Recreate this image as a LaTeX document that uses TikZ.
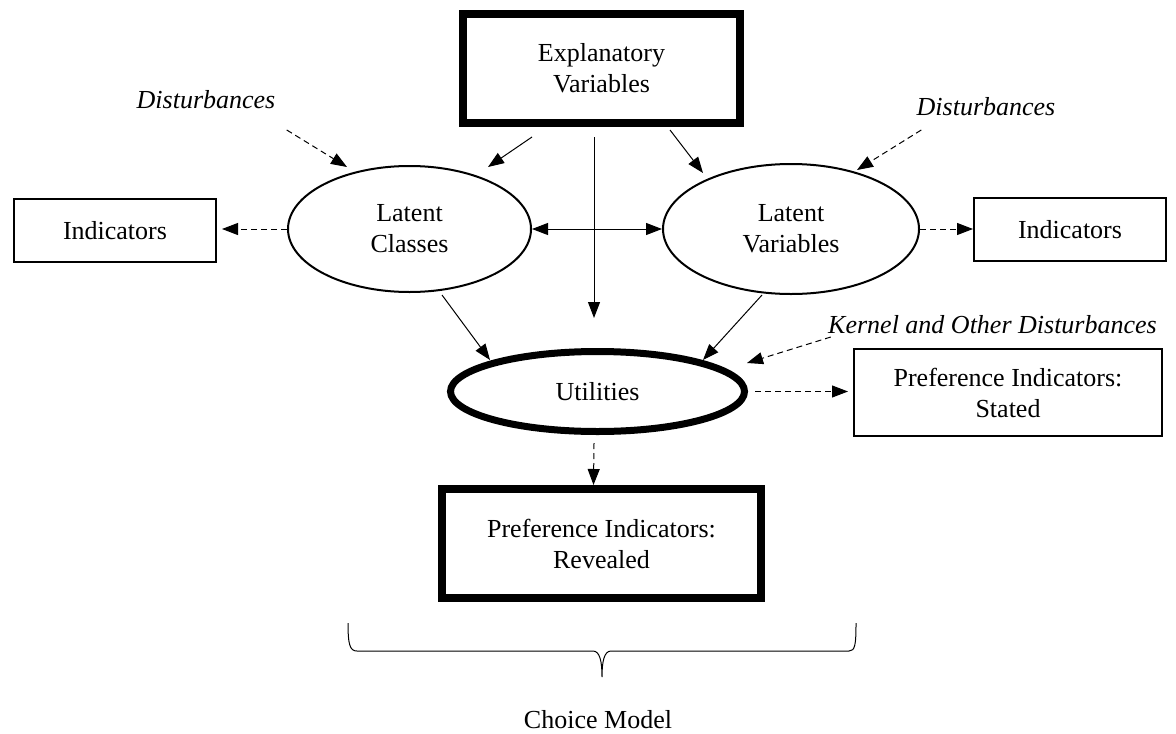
\documentclass[tikz,border=0pt]{standalone}
\usepackage{fontspec}
\setmainfont{Liberation Serif}
\usetikzlibrary{arrows.meta,shapes.geometric,calc}
\newcommand{\figfont}{\fontsize{13}{15.5}\selectfont}
\tikzset{
box/.style={draw,rectangle,line width=1pt,align=center,inner sep=0pt,font=\figfont},
bigbox/.style={box,line width=4pt},
oval/.style={draw,ellipse,line width=1pt,align=center,inner sep=0pt,font=\figfont},
note/.style={font=\figfont\itshape,inner sep=0pt,anchor=base},
arr/.style={->,>={Triangle[length=8pt,width=6pt]},line width=0.5pt},
darr/.style={arr,dash pattern=on 3pt off 2pt}
}
\begin{document}
\begin{tikzpicture}[x=0.5pt,y=-0.5pt]
\useasboundingbox (0,0) rectangle (1176,733);
\node[bigbox,minimum width=138.5pt,minimum height=54.5pt] (expl) at (601.5,68.5) {Explanatory\\Variables};
\node[oval,minimum width=121.5pt,minimum height=63pt] (lclass) at (409.5,229) {Latent\\Classes};
\node[oval,minimum width=128pt,minimum height=65pt] (lvar) at (791,229) {Latent\\Variables};
\node[box,minimum width=101pt,minimum height=31.5pt] (indl) at (115,230.5) {Indicators};
\node[box,minimum width=96pt,minimum height=31.5pt] (indr) at (1070,229.5) {Indicators};
\node[oval,line width=3.5pt,minimum width=147pt,minimum height=40pt] (util) at (597.5,391.5) {Utilities};
\node[box,minimum width=154pt,minimum height=43.5pt] (stated) at (1008,392.5) {Preference Indicators:\\Stated};
\node[bigbox,minimum width=159.5pt,minimum height=54.5pt] (reveal) at (601.5,543.5) {Preference Indicators:\\Revealed};
\node[note] (distl) at (206,108) {Disturbances};
\node[note] (distr) at (986,115) {Disturbances};
\node[note] (kernel) at (992.5,333) {Kernel and Other Disturbances};
\node[note,font=\figfont] (choice) at (598,728) {Choice Model};
\draw[darr] ($(distl.base east)+(11,22)$) -- ($(lclass.north)+(-62.5,2)$);
\draw[arr] ($(expl.south)+(-69.5,10)$) -- ($(lclass.north)+(78.5,2)$);
\draw[arr] ($(expl.south)+(-7.5,10)$) -- ($(util.north)+(-3.5,-30)$);
\draw[arr] ($(expl.south)+(68.5,3)$) -- ($(lvar.north)+(-88,10)$);
\draw[darr] ($(distr.base west)+(5,15)$) -- ($(lvar.north)+(66,7)$);
\draw[arr,<->] (lclass.east) -- (lvar.west);
\draw[darr,shorten >=2.5pt] (lclass.west) -- (lclass.west -| indl.east);
\draw[darr] (lvar.east) -- (lvar.east -| indr.west);
\draw[arr] ($(lclass.south)+(32.5,2)$) -- ($(util.north)+(-107.5,12)$);
\draw[arr] ($(lvar.south)+(-29,0)$) -- ($(util.north)+(105.5,12)$);
\draw[darr] ($(kernel.base west)+(3,4)$) -- ($(util.east)+(-1,-28.5)$);
\draw[darr,shorten <=3.5pt,shorten >=2.5pt] (util.east) -- (util.east -| stated.west);
\draw[darr] ($(util.south)+(-3.5,8)$) -- ($(reveal.north)+(-8,0)$);
\draw[line width=0.5pt] (348,623) .. controls (348,645) and (350,651) .. (357,651) -- (593,651) .. controls (600,651) and (602,662) .. (602,677) .. controls (602,662) and (604,651) .. (611,651) -- (849,651) .. controls (855,651) and (856,645) .. (856,623);
\end{tikzpicture}
\end{document}
